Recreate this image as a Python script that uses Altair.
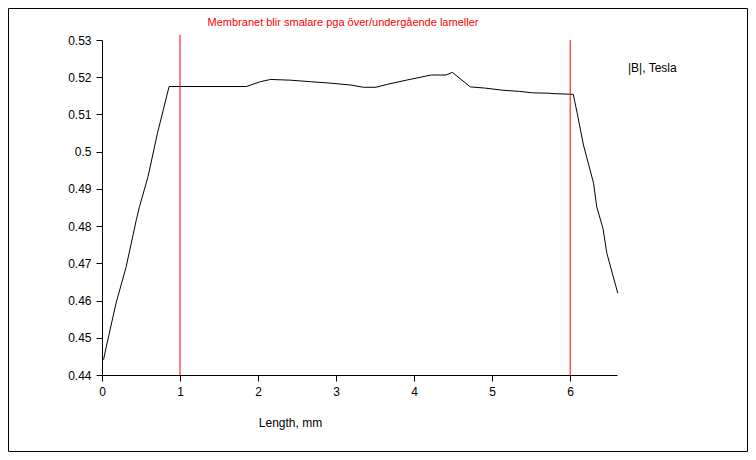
import altair as alt
import pandas as pd

length_mm = [0.02, 0.055, 0.18, 0.31, 0.44, 0.48, 0.59, 0.71, 0.86, 0.89, 1.85, 2.03, 2.16, 2.42, 2.67, 2.93, 3.19, 3.35, 3.51, 3.66, 3.92, 4.22, 4.41, 4.49, 4.72, 4.90, 5.14, 5.35, 5.52, 5.73, 5.78, 6.04, 6.09, 6.17, 6.30, 6.34, 6.42, 6.47, 6.61]
b_tesla = [0.4441, 0.4476, 0.4593, 0.4691, 0.4817, 0.4852, 0.4933, 0.5049, 0.5175, 0.5175, 0.5175, 0.5188, 0.5194, 0.5192, 0.5188, 0.5184, 0.5179, 0.5173, 0.5173, 0.5181, 0.5193, 0.5206, 0.5206, 0.5213, 0.5174, 0.5171, 0.5165, 0.5162, 0.5158, 0.5157, 0.5156, 0.5154, 0.5103, 0.5018, 0.4915, 0.4852, 0.4794, 0.4727, 0.4620]

marker_x = [1, 6]
marker_top = [0.5314, 0.53]

x_ticks = [0, 1, 2, 3, 4, 5, 6]
y_ticks = [0.44, 0.45, 0.46, 0.47, 0.48, 0.49, 0.50, 0.51, 0.52, 0.53]

annotation = "Membranet blir smalare pga över/undergående lameller"
series_name = "|B|, Tesla"
x_title = "Length, mm"

FONT = "Liberation Sans"
W, H = 515, 335

df = pd.DataFrame({"x": length_mm, "y": b_tesla})
mk = pd.DataFrame({"x": marker_x, "top": marker_top, "bottom": [0.44, 0.44]})

xs = alt.Scale(domain=[0, 6.6], nice=False, zero=False)
ys = alt.Scale(domain=[0.44, 0.53], nice=False, zero=False)

x_axis = alt.Axis(
    values=x_ticks, format="d", title=x_title, titleX=188, titleY=42,
    titleAlign="center", titleBaseline="top", titleFontWeight="normal",
    titleFontSize=12, titleFont=FONT, titleColor="black",
    labelFont=FONT, labelFontSize=12, labelColor="black", labelPadding=5,
    tickSize=6, tickColor="black", domainColor="black", grid=False,
    labelFlush=False, labelOverlap=False,
)
y_axis = alt.Axis(
    values=y_ticks, format="~g", title=None,
    labelFont=FONT, labelFontSize=12, labelColor="black", labelPadding=5,
    tickSize=6, tickColor="black", domainColor="black", grid=False,
    labelFlush=False, labelOverlap=False,
)

border = alt.Chart(pd.DataFrame({"a": [0]})).mark_rect(
    fill=None, stroke="black", strokeWidth=1
).encode(
    x=alt.value(-93.5), x2=alt.value(740 - 94 - 0.5),
    y=alt.value(-31.5), y2=alt.value(444 - 32 - 0.5),
)

line = alt.Chart(df).mark_line(color="black", strokeWidth=1, clip=False).encode(
    x=alt.X("x:Q", scale=xs, axis=x_axis, title=x_title),
    y=alt.Y("y:Q", scale=ys, axis=y_axis, title=None),
)

rules = alt.Chart(mk).mark_rule(color="red", strokeWidth=1).encode(
    x=alt.X("x:Q", scale=xs, axis=x_axis, title=x_title),
    y=alt.Y("top:Q", scale=ys, axis=y_axis, title=None),
    y2="bottom:Q",
)

ann = alt.Chart(pd.DataFrame({"t": [annotation]})).mark_text(
    color="red", font=FONT, fontSize=11, align="center", baseline="alphabetic"
).encode(text="t:N", x=alt.value(241), y=alt.value(-14.5))

leg = alt.Chart(pd.DataFrame({"t": [series_name]})).mark_text(
    color="black", font=FONT, fontSize=12, align="left", baseline="alphabetic"
).encode(text="t:N", x=alt.value(526), y=alt.value(31.5))

chart = alt.layer(border, line, rules, ann, leg).properties(
    width=W, height=H,
    background="white",
    autosize=alt.AutoSizeParams(type="none"),
    padding={"left": 94, "top": 32, "right": 740 - 94 - W, "bottom": 444 - 32 - H},
).configure_view(stroke=None)

chart.save("out.html", embed_options={"renderer": "svg", "actions": False})
